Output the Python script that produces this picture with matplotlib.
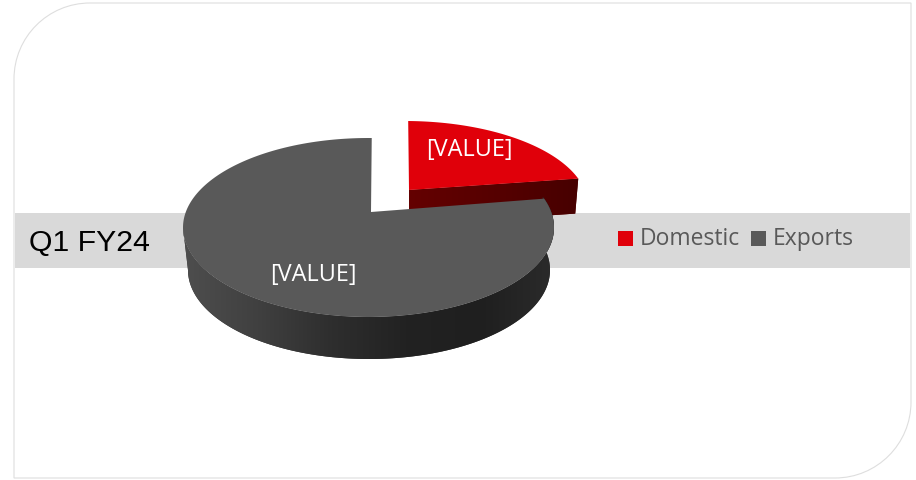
# Q1 FY24 pie, drawn by hand since matplotlib has no 3D pie
import numpy as np
import matplotlib.pyplot as plt
from matplotlib.colors import LinearSegmentedColormap
from matplotlib.patches import PathPatch, Polygon, Rectangle
from matplotlib.path import Path

plt.rcParams['font.family'] = ['Open Sans', 'DejaVu Sans']

# Data
categories = ['Domestic', 'Exports']
shares = [19.5, 80.5]
slice_labels = ['[VALUE]', '[VALUE]']
title = 'Q1 FY24'

# Colours
top_colors = ['#e0000a', '#595959']
band_color = '#d9d9d9'
border_color = '#dedede'
legend_text = '#595959'

fig = plt.figure(figsize=(9.16, 4.8), dpi=100)
ax = fig.add_axes([0, 0, 1, 1])
ax.set_xlim(0, 916)
ax.set_ylim(480, 0)
ax.axis('off')


def rim(cx, cy, a, b, t_start, t_end):
    # points on an ellipse, angles in degrees, y axis points down
    t = np.radians(np.linspace(t_start, t_end, 200))
    return np.column_stack([cx + a * np.cos(t), cy - b * np.sin(t)])


def gradient(patch, xs, colors, y0, y1):
    # horizontal gradient clipped to the patch
    cmap = LinearSegmentedColormap.from_list('side', colors)
    im = ax.imshow(np.linspace(0, 1, 256).reshape(1, -1), cmap=cmap, aspect='auto',
                   extent=[xs[0], xs[1], y1, y0], zorder=patch.get_zorder())
    im.set_clip_path(patch)
    ax.set_xlim(0, 916)
    ax.set_ylim(480, 0)


# Card with two rounded corners
x0, x1, y0, y1 = 14, 911, 3, 478
r = 76
k = 0.5523 * r
card = Path([(x0 + r, y0), (x1, y0), (x1, y1 - r),
             (x1, y1 - r + k), (x1 - r + k, y1), (x1 - r, y1),
             (x0, y1), (x0, y0 + r),
             (x0, y0 + r - k), (x0 + r - k, y0), (x0 + r, y0)],
            [Path.MOVETO, Path.LINETO, Path.LINETO,
             Path.CURVE4, Path.CURVE4, Path.CURVE4,
             Path.LINETO, Path.LINETO,
             Path.CURVE4, Path.CURVE4, Path.CURVE4])
ax.add_patch(PathPatch(card, facecolor='white', edgecolor=border_color, lw=0.8, zorder=1))
ax.add_patch(Rectangle((15, 212.5), 895, 55, facecolor=band_color, edgecolor='none', zorder=2))

# Slice angles, exports starts at the top and runs counter clockwise
start = 89
end = start + 360 * shares[1] / sum(shares)

# Domestic slice, pulled out from the pie
d_apex = np.array([409, 190])
d_rim = rim(405, 206, 183, 85, end - 360, start)
d_depth = 35
right = d_rim[0]
side = Polygon([d_apex, right, right + [-3, d_depth], d_apex + [0, d_depth]],
               closed=True, facecolor='#5c0000', edgecolor='none', zorder=3)
ax.add_patch(side)
gradient(side, (409, 580), ['#640000', '#560000', '#470000'], 170, 240)
ax.add_patch(Polygon(np.vstack([d_apex, d_rim]), closed=True,
                     facecolor=top_colors[0], edgecolor='none', zorder=4))

# Exports slice, wall first and then the top face
e_apex = np.array([371, 212])
e_top = (368.5, 227.5, 185.5, 89.5)
e_bottom = (369, 270, 181, 89)
upper = rim(*e_top, 180, 380)
lower = rim(*e_bottom, 380, 180)
wall = Polygon(np.vstack([upper, lower]), closed=True, facecolor='#333333',
               edgecolor='none', zorder=5)
ax.add_patch(wall)
gradient(wall, (183, 555), ['#4e4e4e', '#404040', '#2e2e2e', '#222222', '#1f1f1f', '#2b2b2b'],
         200, 365)
e_rim = rim(*e_top, start, end)
ax.add_patch(Polygon(np.vstack([e_apex, e_rim]), closed=True,
                     facecolor=top_colors[1], edgecolor='none', zorder=6))

# Slice labels
label_xy = [(469, 156), (313.5, 281)]
for lab, (lx, ly) in zip(slice_labels, label_xy):
    ax.text(lx, ly, lab, color='white', fontsize=16.9, ha='center', va='baseline', zorder=7)

# Title in the band
ax.text(29, 251, title, family='Liberation Sans', color='black', fontsize=21.8,
        ha='left', va='baseline', zorder=7)

# Legend
swatch_x = [618, 751]
for name, col, sx in zip(categories, top_colors, swatch_x):
    ax.add_patch(Rectangle((sx, 231), 15, 15, facecolor=col, edgecolor='none', zorder=7))
    ax.text(sx + 22, 245, name, color=legend_text, fontsize=16.5, ha='left', va='baseline', zorder=7)

plt.savefig('out.png', dpi=100)
